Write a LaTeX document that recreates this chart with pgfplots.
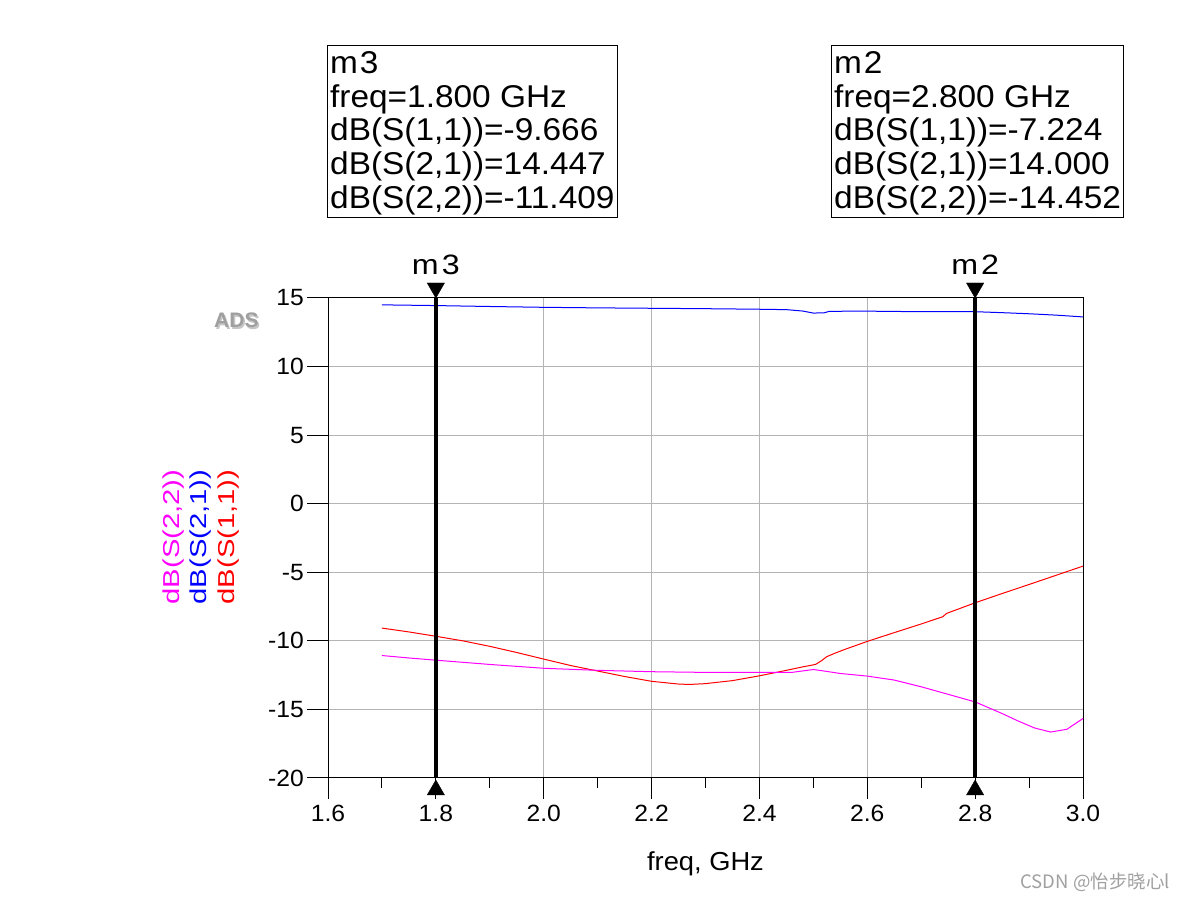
\documentclass[border=0pt]{standalone}
\usepackage{pgfplots}
\pgfplotsset{compat=1.18}
\usepackage{fontspec}
\setmainfont{Liberation Sans}
\newfontfamily\cjk{Noto Sans CJK SC}
\newfontfamily\boxfont[FakeStretch=1.06]{Liberation Sans}
\newfontfamily\tickfont[FakeStretch=1.05]{Liberation Sans}
\newfontfamily\ylabfont[FakeStretch=1.27]{Liberation Sans}
\newfontfamily\mfont[FakeStretch=1.15]{Liberation Sans}
\definecolor{gridgray}{RGB}{180,180,180}
\definecolor{smag}{RGB}{255,0,255}
\definecolor{sblue}{RGB}{0,0,255}
\definecolor{sred}{RGB}{255,0,0}
\definecolor{wm}{RGB}{160,160,160}

\pgfplotstableread{
f s11
1.70 -9.07
1.75 -9.35
1.80 -9.666
1.85 -10.0
1.90 -10.4
1.95 -10.85
2.00 -11.33
2.05 -11.8
2.10 -12.2
2.15 -12.6
2.20 -12.95
2.25 -13.15
2.27 -13.18
2.30 -13.12
2.35 -12.9
2.40 -12.55
2.45 -12.15
2.48 -11.9
2.50 -11.75
2.505 -11.7
2.515 -11.45
2.525 -11.15
2.54 -10.9
2.56 -10.6
2.60 -10.04
2.65 -9.4
2.70 -8.77
2.74 -8.24
2.747 -8.0
2.80 -7.224
2.85 -6.55
2.90 -5.89
2.95 -5.22
3.00 -4.55
}\sone

\pgfplotstableread{
f s21
1.70 14.50
1.80 14.447
1.90 14.38
2.00 14.32
2.10 14.28
2.20 14.25
2.30 14.22
2.40 14.18
2.45 14.15
2.48 14.05
2.50 13.90
2.52 13.92
2.53 14.03
2.60 14.04
2.70 14.00
2.80 14.000
2.85 13.93
2.90 13.85
2.95 13.75
3.00 13.62
}\stwo

\pgfplotstableread{
f s22
1.70 -11.07
1.75 -11.25
1.80 -11.409
1.90 -11.72
2.00 -12.0
2.10 -12.15
2.20 -12.25
2.30 -12.3
2.40 -12.3
2.46 -12.3
2.50 -12.09
2.52 -12.2
2.55 -12.38
2.60 -12.57
2.65 -12.86
2.70 -13.35
2.75 -13.9
2.80 -14.452
2.85 -15.3
2.88 -15.85
2.91 -16.35
2.94 -16.65
2.97 -16.45
3.00 -15.66
}\sthree

\begin{document}
\begin{tikzpicture}[x=1pt,y=1pt]
\useasboundingbox (0,0) rectangle (1184,901);
\begin{axis}[
  at={(328pt,123pt)}, anchor=south west,
  scale only axis, width=755pt, height=480pt,
  xmin=1.6, xmax=3.0, ymin=-20, ymax=15,
  xtick={1.6,1.8,2.0,2.2,2.4,2.6,2.8,3.0},
  minor xtick={1.7,1.9,2.1,2.3,2.5,2.7,2.9},
  ytick={-20,-15,-10,-5,0,5,10,15},
  grid=major,
  major grid style={draw=gridgray, line width=1pt},
  tick align=outside, tick pos=left,
  major tick length=21pt, minor tick length=10pt,
  tick style={black, line width=1pt},
  axis line style={line width=1pt},
  /pgf/number format/assume math mode=true,
  ticklabel style={font=\tickfont\fontsize{23.5}{23.5}\selectfont, inner sep=0pt},
  xticklabel style={/pgf/number format/fixed, /pgf/number format/fixed zerofill, /pgf/number format/precision=1, yshift=-6pt},
  yticklabel style={xshift=-3pt},
  clip=false,
]
\addplot[sblue, line width=1pt] table[x=f,y=s21] {\stwo};
\addplot[sred, line width=1pt] table[x=f,y=s11] {\sone};
\addplot[smag, line width=1pt] table[x=f,y=s22] {\sthree};
% marker lines
\addplot[black, line width=3.5pt] coordinates {(1.8,-20) (1.8,15)};
\addplot[black, line width=3.5pt] coordinates {(2.8,-20) (2.8,15)};
\addplot[only marks, mark=triangle*, mark size=10pt, black, mark options={yshift=10pt, rotate=180}] coordinates {(1.8,15) (2.8,15)};
\addplot[only marks, mark=triangle*, mark size=10pt, black, mark options={yshift=-12pt}] coordinates {(1.8,-20) (2.8,-20)};
\node[anchor=base, font=\mfont\fontsize{28}{28}\selectfont, inner sep=0pt] at (axis cs:1.8,15) [yshift=23pt] {m\kern3pt3};
\node[anchor=base, font=\mfont\fontsize{28}{28}\selectfont, inner sep=0pt] at (axis cs:2.8,15) [yshift=23pt] {m\kern3pt2};
\end{axis}

% marker boxes
\draw[line width=1pt] (327,683) rectangle (617,855);
\draw[line width=1pt] (831,683) rectangle (1123,855);
\begin{scope}[every node/.style={anchor=base west, inner sep=0pt, font=\boxfont\fontsize{31.5}{31.5}\selectfont}]
\node at (330,827.5) {m\kern2pt3};
\node at (330,793.7) {freq=1.800 GHz};
\node at (330,760) {dB(S(1,1))=-9.666};
\node at (330,726.2) {dB(S(2,1))=14.447};
\node at (330,692.5) {dB(S(2,2))=-11.409};
\node at (834,827.5) {m\kern2pt2};
\node at (834,793.7) {freq=2.800 GHz};
\node at (834,760) {dB(S(1,1))=-7.224};
\node at (834,726.2) {dB(S(2,1))=14.000};
\node at (834,692.5) {dB(S(2,2))=-14.452};
\end{scope}

% y labels
\node[rotate=90, text=smag, inner sep=0pt, font=\ylabfont\fontsize{23}{23}\selectfont] at (174,364) {dB(S(2,2))};
\node[rotate=90, text=sblue, inner sep=0pt, font=\ylabfont\fontsize{23}{23}\selectfont] at (201,364) {dB(S(2,1))};
\node[rotate=90, text=sred, inner sep=0pt, font=\ylabfont\fontsize{23}{23}\selectfont] at (229,364) {dB(S(1,1))};

% x label
\node[anchor=base, inner sep=0pt, font=\tickfont\fontsize{26}{26}\selectfont] at (705.5,30) {freq, GHz};

% ADS logo
\node[anchor=base west, inner sep=0pt, text=gray!45, font=\bfseries\fontsize{21}{21}\selectfont] at (215.5,571.5) {ADS};
\node[anchor=base west, inner sep=0pt, text=gray!75, font=\bfseries\fontsize{21}{21}\selectfont] at (214,573) {ADS};

% watermark
\node[anchor=base east, inner sep=0pt, text=wm, font=\cjk\fontsize{18.5}{18.5}\selectfont] at (1170,12) {CSDN @怡步晓心l};
\end{tikzpicture}
\end{document}
